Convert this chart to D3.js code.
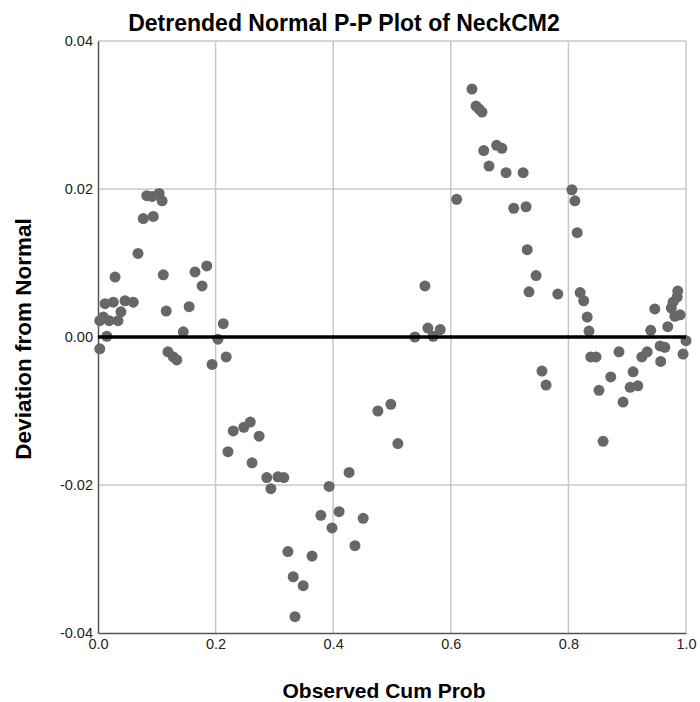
<!DOCTYPE html>
<html><head><meta charset="utf-8">
<script src="https://cdn.jsdelivr.net/npm/d3@7"></script>
<style>body{margin:0;background:#fff}svg{display:block}text{font-family:"Liberation Sans",Arial,sans-serif}</style>
</head><body>
<script>
const title = "Detrended Normal P-P Plot of NeckCM2";
const xLabel = "Observed Cum Prob";
const yLabel = "Deviation from Normal";
const xTicks = [0, 0.2, 0.4, 0.6, 0.8, 1.0];
const yTicks = [-0.04, -0.02, 0, 0.02, 0.04];
// observed cumulative probability
const obsProb = [
0.003,0.003,0.009,0.012,0.015,0.019,0.026,0.029,0.034,0.039,0.046,0.060,0.068,0.077,0.083,0.092,0.094,0.104,0.109,0.111,0.116,0.119,0.128,0.134,0.145,0.155,0.165,0.177,0.185,0.194,0.204,0.213,0.218,
0.221,0.230,0.248,0.259,0.274,0.262,0.287,0.306,0.316,0.294,0.323,0.364,0.332,0.349,0.335,0.393,0.427,0.379,0.410,0.398,0.451,0.437,0.476,0.498,0.510,0.556,0.539,0.561,0.570,0.582,
0.610,0.636,0.643,0.648,0.653,0.656,0.665,0.678,0.687,0.694,0.723,0.707,0.728,0.730,0.745,0.733,0.782,0.755,0.762,0.806,0.811,0.815,0.820,0.826,0.832,0.835,0.838,0.847,0.852,0.859,0.872,0.886,0.893,0.905,0.918,0.910,0.925,0.934,0.940,0.947,0.956,0.957,0.964,0.969,0.975,0.978,0.981,0.985,0.986,0.990,0.995,1.000
];
// deviation from normal
const deviation = [
0.0022,-0.0016,0.0027,0.0045,0.0001,0.0022,0.0047,0.0081,0.0022,0.0034,0.0049,0.0047,0.0113,0.0160,0.0191,0.0190,0.0163,0.0194,0.0184,0.0084,0.0035,-0.0020,-0.0027,-0.0031,0.0007,0.0041,0.0088,0.0069,0.0096,-0.0037,-0.0003,0.0018,-0.0027,
-0.0155,-0.0127,-0.0122,-0.0115,-0.0134,-0.0170,-0.0190,-0.0189,-0.0190,-0.0205,-0.0290,-0.0296,-0.0324,-0.0336,-0.0378,-0.0202,-0.0183,-0.0241,-0.0236,-0.0258,-0.0245,-0.0282,-0.0100,-0.0091,-0.0144,0.0069,0.0000,0.0012,0.0001,0.0010,
0.0186,0.0335,0.0312,0.0308,0.0304,0.0252,0.0231,0.0259,0.0255,0.0222,0.0222,0.0174,0.0176,0.0118,0.0083,0.0061,0.0058,-0.0046,-0.0065,0.0199,0.0184,0.0141,0.0060,0.0049,0.0027,0.0008,-0.0027,-0.0027,-0.0072,-0.0141,-0.0054,-0.0020,-0.0088,-0.0068,-0.0066,-0.0047,-0.0027,-0.0020,0.0009,0.0038,-0.0012,-0.0033,-0.0014,0.0014,0.0039,0.0047,0.0028,0.0054,0.0062,0.0030,-0.0023,-0.0005
];

const W = 700, H = 702;
const m = {left: 98, right: 686, top: 41, bottom: 633};
const svg = d3.select("body").append("svg").attr("width", W).attr("height", H);
const x = d3.scaleLinear().domain([0, 1]).range([m.left, m.right]);
const y = d3.scaleLinear().domain([-0.04, 0.04]).range([m.bottom, m.top]);
const hyphen = f => d => f(d).replace("\u2212", "-");

// grid
svg.append("g").selectAll("line").data(xTicks.slice(1)).join("line")
  .attr("x1", d => x(d)).attr("x2", d => x(d)).attr("y1", m.top).attr("y2", m.bottom)
  .attr("stroke", "#c8c8c8").attr("stroke-width", 1.5);
svg.append("g").selectAll("line").data(yTicks.slice(1)).join("line")
  .attr("x1", m.left).attr("x2", m.right).attr("y1", d => y(d)).attr("y2", d => y(d))
  .attr("stroke", "#c8c8c8").attr("stroke-width", 1.5);

// axes
const xAxis = svg.append("g").attr("transform", `translate(0,${m.bottom})`)
  .call(d3.axisBottom(x).tickValues(xTicks).tickFormat(hyphen(d3.format(".1f"))).tickSize(0).tickPadding(8));
const yAxis = svg.append("g").attr("transform", `translate(${m.left},0)`)
  .call(d3.axisLeft(y).tickValues(yTicks).tickFormat(hyphen(d3.format(".2f"))).tickSize(0).tickPadding(5));
[xAxis, yAxis].forEach(a => {
  a.select(".domain").attr("stroke", "#555").attr("stroke-width", 1.5);
  a.selectAll("text").attr("font-size", 14.5).attr("fill", "#222");
});
xAxis.selectAll("text").attr("dy", "0.55em");

// points
svg.append("g").selectAll("circle").data(obsProb.map((p, i) => [p, deviation[i]])).join("circle")
  .attr("cx", d => x(d[0])).attr("cy", d => y(d[1])).attr("r", 5.5)
  .attr("fill", "#676767");

// zero reference line
svg.append("line").attr("x1", x(0)).attr("x2", x(1)).attr("y1", y(0)).attr("y2", y(0))
  .attr("stroke", "#000").attr("stroke-width", 3.5);

// titles
svg.append("text").attr("x", 344).attr("y", 31).attr("text-anchor", "middle")
  .attr("font-size", 23).attr("font-weight", "bold").text(title);
svg.append("text").attr("x", 384).attr("y", 698).attr("text-anchor", "middle")
  .attr("font-size", 21).attr("font-weight", "bold").text(xLabel);
svg.append("text").attr("transform", `translate(31,${(m.top + m.bottom) / 2 + 2}) rotate(-90)`)
  .attr("text-anchor", "middle").attr("font-size", 22.5).attr("font-weight", "bold").text(yLabel);
</script>
</body></html>
